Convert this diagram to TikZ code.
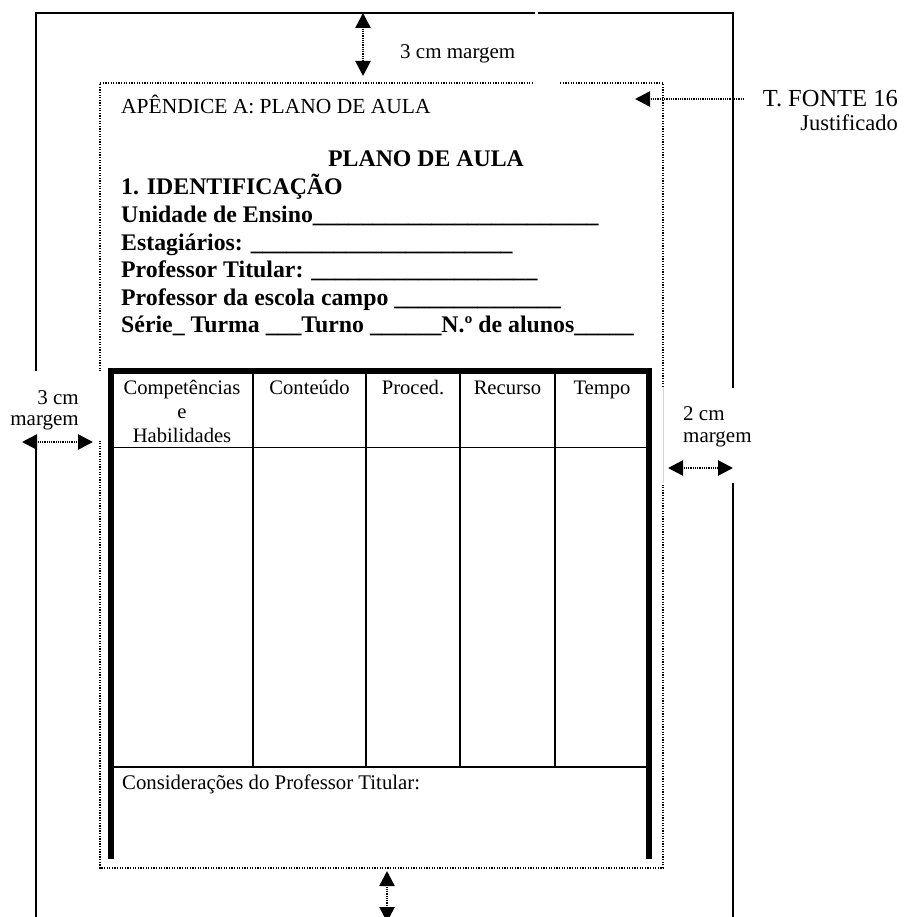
\documentclass[tikz,border=0pt]{standalone}
\usepackage{fontspec}
\setmainfont{Liberation Serif}
\usetikzlibrary{arrows.meta}
\begin{document}
\begin{tikzpicture}[x=1pt,y=-1pt,
  >={Triangle[width=15pt,length=15pt]},
  outerline/.style={line width=2pt, line join=miter},
  dotline/.style={line width=2pt, dash pattern=on 1.3pt off 1.3pt},
  dimarrow/.style={line width=2.6pt, dash pattern=on 1pt off 0.8pt, <->},
  ptrarrow/.style={line width=2.6pt, dash pattern=on 1pt off 0.8pt, <-},
  heavyrule/.style={line width=6pt},
  thinrule/.style={line width=1.8pt},
  regtext/.style={inner sep=0pt, font=\fontsize{20.8}{24}\selectfont},
  apptext/.style={inner sep=0pt, font=\fontsize{21.5}{25}\selectfont},
  boldtext/.style={inner sep=0pt, anchor=base west, font=\fontsize{23.8}{27}\selectfont\bfseries},
  notetext/.style={inner sep=0pt, font=\fontsize{24.5}{27}\selectfont},
  justtext/.style={inner sep=0pt, font=\fontsize{22.5}{26}\selectfont},
  margintext/.style={inner sep=0pt, font=\fontsize{21}{24}\selectfont},
  coltext/.style={inner sep=0pt, anchor=base, font=\fontsize{20.6}{24}\selectfont}
]
\clip (0,0) rectangle (916,917);
\fill[white] (0,0) rectangle (916,917);

% outer page frame
\draw[outerline] (36,917) -- (36,13) -- (535,13);
\draw[outerline] (538,13) -- (732.5,13) -- (732.5,917);

% dotted text-area frame
\draw[dotline] (533,83) -- (100,83) -- (100,868) -- (663,868) -- (663,83) -- (560,83);

% white label boxes that interrupt the frames
\fill[white] (0,371) rectangle (102,441);
\fill[white] (662,388) rectangle (760,483);
\draw[gray!35, line width=0.6pt] (663.5,388) -- (663.5,483);

% table
\draw[heavyrule] (108,371) -- (652,371);
\draw[heavyrule] (111,371) -- (111,859);
\draw[heavyrule] (649,371) -- (649,859);
\draw[thinrule] (111,447.5) -- (649,447.5);
\draw[thinrule] (111,767) -- (649,767);
\foreach \cx in {253,366,460,555} \draw[thinrule] (\cx,371) -- (\cx,767);

% header cells
\node[coltext] (c1a) at (182,394) {Competências};
\node[coltext] (c1b) at (182,418) {e};
\node[coltext] (c1c) at (182,442) {Habilidades};
\node[coltext] (c2) at (309.5,394) {Conteúdo};
\node[coltext] (c3) at (413,394) {Proced.};
\node[coltext] (c4) at (507.5,394) {Recurso};
\node[coltext] (c5) at (602,394) {Tempo};
\node[regtext, anchor=base west] (cons) at (122,789) {Considerações do Professor Titular:};

% heading texts
\node[apptext, anchor=base west] (apendice) at (121,114) {APÊNDICE A: PLANO DE AULA};
\node[boldtext, anchor=base] (plano) at (426,167) {PLANO DE AULA};
\node[boldtext] (ident) at (121,195) {1. IDENTIFICAÇÃO};
\node[boldtext] (unid) at (121,222.5) {Unidade de Ensino\_\_\_\_\_\_\_\_\_\_\_\_\_\_\_\_\_\_\_\_\_\_\_\_};
\node[boldtext] (estag) at (121,250) {Estagiários: \_\_\_\_\_\_\_\_\_\_\_\_\_\_\_\_\_\_\_\_\_\_};
\node[boldtext] (titular) at (121,277.5) {Professor Titular: \_\_\_\_\_\_\_\_\_\_\_\_\_\_\_\_\_\_\_};
\node[boldtext] (campo) at (121,305) {Professor da escola campo \_\_\_\_\_\_\_\_\_\_\_\_\_\_};
\node[boldtext] (serie) at (121,332.5) {Série\_ Turma \_\_\_Turno \_\_\_\_\_\_N.º de alunos\_\_\_\_\_};

% margin labels
\node[margintext, anchor=base west] (topm) at (400,59) {3 cm margem};
\node[margintext, anchor=base east] (lm1) at (79,404) {3 cm};
\node[margintext, anchor=base east] (lm2) at (79,425) {margem};
\node[margintext, anchor=base west] (rm1) at (683,420) {2 cm};
\node[margintext, anchor=base west] (rm2) at (683,442) {margem};
\node[notetext, anchor=base east] (fonte) at (898,107) {T. FONTE 16};
\node[justtext, anchor=base east] (just) at (898,131) {Justificado};

% dimension arrows
\coordinate (topA) at (363,13);
\coordinate (topB) at (363,76);
\coordinate (botA) at (387,871);
\coordinate (botB) at (387,922);
\coordinate (leftA) at (22,442);
\coordinate (leftB) at (93,442);
\coordinate (rightA) at (668,468);
\coordinate (rightB) at (733,468);
\coordinate (fonteA) at (743,99);
\coordinate (fonteB) at (635,99);
\draw[dimarrow] (topA) -- (topB);
\draw[dimarrow] (botA) -- (botB);
\draw[dimarrow] (leftA) -- (leftB);
\draw[dimarrow] (rightA) -- (rightB);
\draw[ptrarrow] (fonteB) -- (fonteA);
\end{tikzpicture}
\end{document}
